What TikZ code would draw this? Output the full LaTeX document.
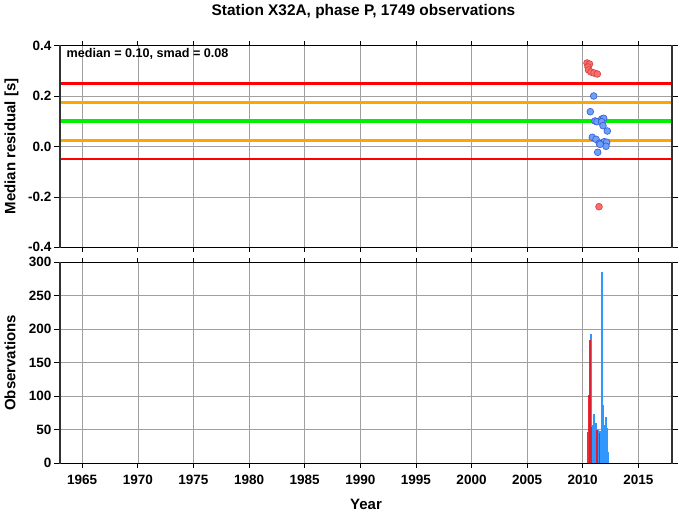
\documentclass[tikz,border=0pt]{standalone}
\usepackage{fontspec}
\setmainfont{Liberation Sans}
\definecolor{gridc}{RGB}{160,160,160}
\definecolor{framec}{RGB}{50,50,50}
\definecolor{lred}{RGB}{255,0,0}
\definecolor{lorange}{RGB}{255,165,0}
\definecolor{lgreen}{RGB}{0,240,0}
\definecolor{dotrf}{RGB}{250,110,110}
\definecolor{dotrd}{RGB}{215,60,60}
\definecolor{dotbf}{RGB}{110,160,250}
\definecolor{dotbd}{RGB}{50,90,215}
\definecolor{barb}{RGB}{50,150,255}
\definecolor{barr}{RGB}{235,20,30}
\tikzset{
  gridline/.style={draw=gridc, line width=0.7pt},
  tickmark/.style={draw=black, line width=0.8pt},
  dotr/.style={fill=dotrf, draw=dotrd, line width=0.6pt},
  dotb/.style={fill=dotbf, draw=dotbd, line width=0.6pt},
  barblue/.style={fill=barb},
  barred/.style={fill=barr, fill opacity=0.9},
  ticklab/.style={font=\fontsize{13.5}{13.5}\selectfont\bfseries, inner sep=0pt},
  axlab/.style={font=\fontsize{15}{15}\selectfont\bfseries, inner sep=0pt},
}
\begin{document}
\begin{tikzpicture}[x=1pt,y=-1pt]
\useasboundingbox (0,0) rectangle (678,511);
\fill[white] (0,0) rectangle (678,511);
% ---------- grids ----------
\foreach \yr in {1965,1970,...,2015}{
  \pgfmathsetmacro\xx{60+(\yr-1963)*11.1218}
  \draw[gridline] (\xx,45.7) -- (\xx,247.3);
  \draw[gridline] (\xx,262.3) -- (\xx,463.3);
  \draw[tickmark] (\xx,45.7) -- (\xx,41.2);
  \draw[tickmark] (\xx,247.3) -- (\xx,251.8);
  \draw[tickmark] (\xx,262.3) -- (\xx,257.8);
  \draw[tickmark] (\xx,463.3) -- (\xx,467.8);
  \node[ticklab, anchor=base] (xl\yr) at (\xx,484) {\yr};
}
\foreach \v/\yy in {0.4/45.7,0.2/96.1,0.0/146.5,-0.2/196.9,-0.4/247.3}{
  \ifdim\yy pt>46pt \ifdim\yy pt<247pt \draw[gridline] (60,\yy) -- (671.7,\yy); \fi\fi
  \draw[tickmark] (60,\yy) -- (54,\yy);
  \draw[tickmark] (671.7,\yy) -- (677.7,\yy);
  \node[ticklab, anchor=base east] (yl\yy) at (51.5,\yy+4.6) {\v};
}
\foreach \v in {0,50,...,300}{
  \pgfmathsetmacro\yy{463.3-\v*0.67}
  \ifnum\v>0 \ifnum\v<300 \draw[gridline] (60,\yy) -- (671.7,\yy); \fi\fi
  \draw[tickmark] (60,\yy) -- (54,\yy);
  \draw[tickmark] (671.7,\yy) -- (677.7,\yy);
  \node[ticklab, anchor=base east] (yb\v) at (51.5,\yy+4.6) {\v};
}
% ---------- reference lines ----------
\draw[lred, line width=2.6pt] (60,83.5) -- (671.7,83.5);
\draw[lorange, line width=2.6pt] (60,102.4) -- (671.7,102.4);
\draw[lgreen, line width=3.6pt] (60,121.3) -- (671.7,121.3);
\draw[lorange, line width=2.6pt] (60,140.2) -- (671.7,140.2);
\draw[lred, line width=2.6pt] (60,159.1) -- (671.7,159.1);
% ---------- residual dots ----------
\foreach \px/\py in {587/63,589.5/64,588/67,588.5/70,591/72,594/73,597.3/74,599/206.7}{
  \draw[dotr] (\px,\py) circle (3.4pt);
}
\foreach \px/\py in {593.7/96,590.3/111.7,595/121,597/121.7,601.7/119,603.7/118.3,601.7/121.7,603/125.7,607.3/131,592.3/137.3,596/139.3,599.3/143.3,604.3/141.7,606.7/142.3,606/146.3,600/144.3,597.7/152.3}{
  \draw[dotb] (\px,\py) circle (3.4pt);
}
% ---------- histogram ----------
\foreach \xa/\xb/\yt in {590.0/591.9/334,591.3/593.3/425,593.3/595.1/414,594.7/596.5/422.7,597.1/598.9/430,599.1/600.9/431,600.6/602.6/271.7,602/603.9/405,603.3/605.1/425,604.7/606.5/416.7,606/607.8/428,607.3/609.1/451.7}{
  \fill[barblue] (\xa,463.3) rectangle (\xb,\yt);
}
\foreach \xa/\xb/\yt in {586.5/588.3/432.3,588/589.8/395,589.2/591/340,590.7/592.4/426.7,595.9/597.6/430,598.6/600.3/433}{
  \fill[barred] (\xa,463.3) rectangle (\xb,\yt);
}
% ---------- frames ----------
\draw[black, line width=0.9pt] (60,45.7) -- (671.7,45.7);
\draw[black, line width=1.6pt] (60,247.3) -- (671.7,247.3);
\draw[framec, line width=2pt] (60,45) -- (60,248.1);
\draw[framec, line width=2pt] (671.7,45) -- (671.7,248.1);
\draw[black, line width=1.6pt] (60,262.3) -- (671.7,262.3);
\draw[black, line width=1.6pt] (60,463.3) -- (671.7,463.3);
\draw[framec, line width=2pt] (60,261.5) -- (60,464.1);
\draw[framec, line width=2pt] (671.7,261.5) -- (671.7,464.1);
% ---------- texts ----------
\node[font=\fontsize{15.4}{15.4}\selectfont\bfseries, inner sep=0pt, anchor=base] (title) at (363.5,15.2) {Station X32A, phase P, 1749 observations};
\node[font=\fontsize{12.6}{12.6}\selectfont\bfseries, inner sep=0pt, anchor=base west] (stats) at (66.5,57.5) {median = 0.10, smad = 0.08};
\node[axlab, anchor=base] (xlabel) at (366,509) {Year};
\node[axlab, rotate=90, anchor=base] (ylab1) at (15.5,146.5) {Median residual [s]};
\node[axlab, rotate=90, anchor=base] (ylab2) at (15.5,362.8) {Observations};
\end{tikzpicture}
\end{document}
